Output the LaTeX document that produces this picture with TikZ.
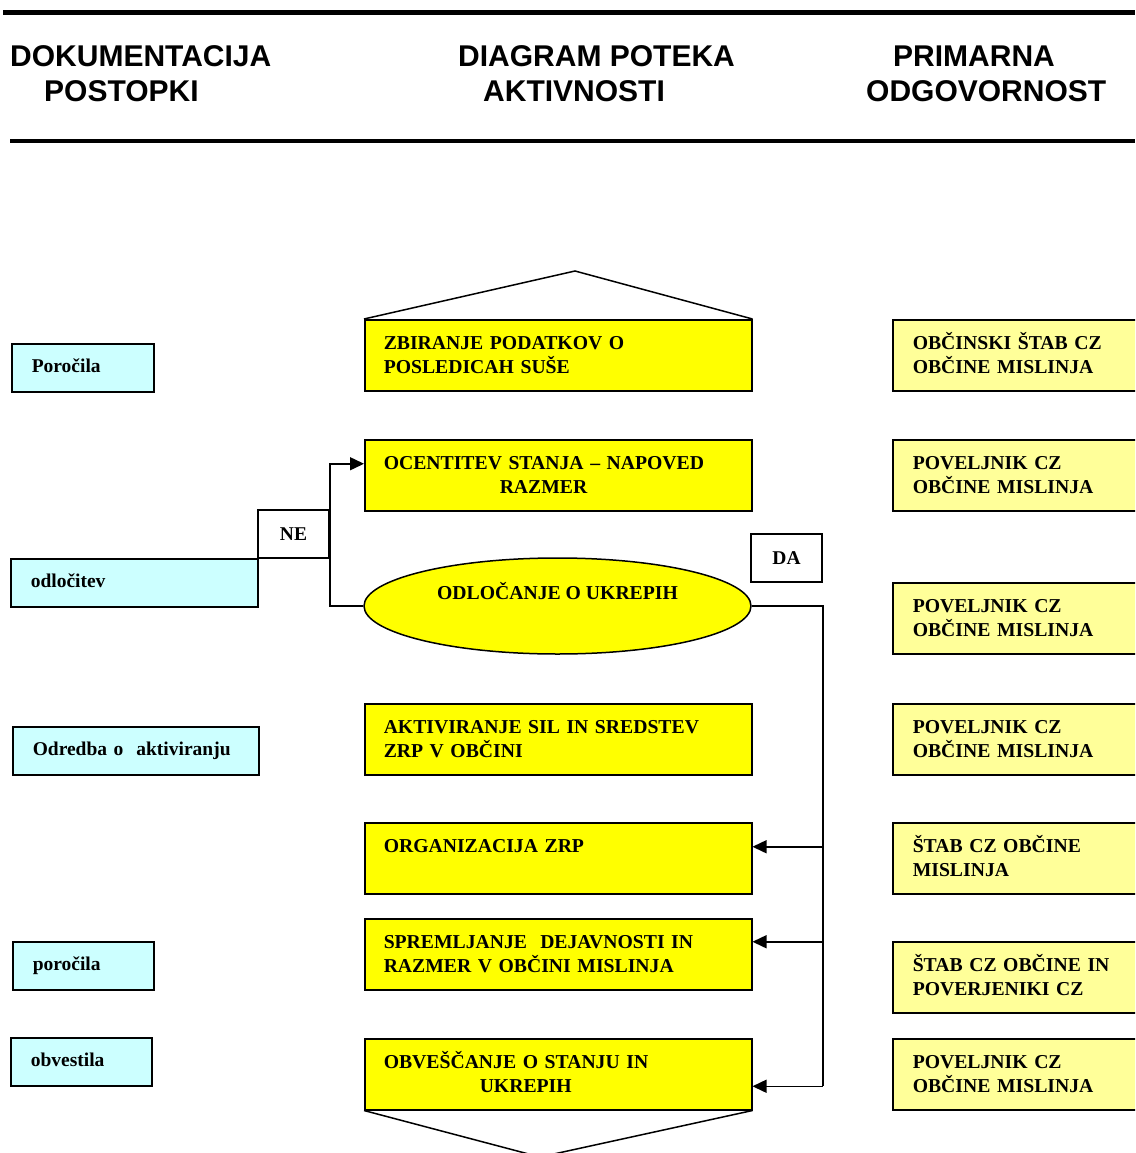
\documentclass[tikz,border=0pt]{standalone}
\usepackage{fontspec}
\setmainfont{Liberation Serif}
\newfontfamily\hdrfont{Liberation Sans}
\usetikzlibrary{shapes.geometric,arrows.meta,calc}
\definecolor{actfill}{HTML}{FFFF00}
\definecolor{respfill}{HTML}{FFFF99}
\definecolor{docfill}{HTML}{CCFFFF}
\newcommand{\twoline}[2]{\rule{0pt}{18pt}#1\\#2\rule[-6pt]{0pt}{6pt}}
\newcommand{\oneline}[1]{\rule[-6pt]{0pt}{22pt}#1}
\begin{document}
\begin{tikzpicture}[x=1pt,y=-1pt,
 hdr/.style={font=\hdrfont\bfseries\fontsize{30}{35}\selectfont, anchor=base west, inner sep=0},
 bx/.style={draw, line width=1.5pt, rectangle, anchor=north west, inner ysep=0, inner xsep=19pt,
   minimum height=71pt, align=left, font=\bfseries\fontsize{19.7}{24}\selectfont},
 act/.style={bx, fill=actfill, text width=349pt},
 resp/.style={bx, fill=respfill, text width=220pt, inner xsep=20pt},
 doc/.style={draw, line width=1.5pt, fill=docfill, anchor=north west, inner ysep=0, inner xsep=20pt,
   minimum height=48pt, align=left, text width=#1, font=\bfseries\fontsize{19.5}{24}\selectfont},
 tag/.style={draw, line width=1.5pt, fill=white, minimum width=71pt, minimum height=48pt, inner sep=0,
   font=\bfseries\fontsize{19.5}{24}\selectfont},
 conn/.style={line width=1.5pt},
 arr/.style={conn, -{Triangle[length=14pt,width=13pt]}}
]
\useasboundingbox (0,0) rectangle (1135,1153);
\clip (0,0) rectangle (1135,1153);

% header
\draw[line width=5pt] (3,12.5) -- (1135,12.5);
\draw[line width=4pt] (10,140.5) -- (1135,140.5);
\node[hdr] (h1a) at (10,67) {DOKUMENTACIJA};
\node[hdr] (h1b) at (44,102) {POSTOPKI};
\node[hdr] (h2a) at (458,67) {DIAGRAM POTEKA};
\node[hdr] (h2b) at (483,102) {AKTIVNOSTI};
\node[hdr] (h3a) at (893,67) {PRIMARNA};
\node[hdr] (h3b) at (866,102) {ODGOVORNOST};

% activity column
\node[act] (b1) at (364,319) {\twoline{ZBIRANJE PODATKOV O}{POSLEDICAH SUŠE}};
\node[act] (b2) at (364,439) {\twoline{OCENTITEV STANJA – NAPOVED}{\hspace*{116pt}RAZMER}};
\node[draw, ellipse, line width=1.5pt, fill=actfill, minimum width=387pt, minimum height=96pt,
  text height=14pt, text depth=28pt, inner sep=0, font=\bfseries\fontsize{19.7}{24}\selectfont]
  (ell) at (557.5,606) {ODLOČANJE O UKREPIH};
\node[act] (b4) at (364,703) {\twoline{AKTIVIRANJE SIL IN SREDSTEV}{ZRP V OBČINI}};
\node[act] (b5) at (364,822) {\twoline{ORGANIZACIJA ZRP}{\mbox{}}};
\node[act] (b6) at (364,918) {\twoline{SPREMLJANJE\ \ DEJAVNOSTI IN}{RAZMER V OBČINI MISLINJA}};
\node[act] (b7) at (364,1038) {\twoline{OBVEŠČANJE O STANJU IN}{\hspace*{96pt}UKREPIH}};

\draw[conn] (b1.north west) -- (575,271) -- (b1.north east);
\draw[conn] (b7.south west) -- (540,1157) -- (b7.south east);

% responsibility column
\node[resp] (r1) at (892,319) {\twoline{OBČINSKI ŠTAB CZ}{OBČINE MISLINJA}};
\node[resp] (r2) at (892,439) {\twoline{POVELJNIK CZ}{OBČINE MISLINJA}};
\node[resp] (r3) at (892,582) {\twoline{POVELJNIK CZ}{OBČINE MISLINJA}};
\node[resp] (r4) at (892,703) {\twoline{POVELJNIK CZ}{OBČINE MISLINJA}};
\node[resp] (r5) at (892,822) {\twoline{ŠTAB CZ OBČINE}{MISLINJA}};
\node[resp] (r6) at (892,941) {\twoline{ŠTAB CZ OBČINE IN}{POVERJENIKI CZ}};
\node[resp] (r7) at (892,1038) {\twoline{POVELJNIK CZ}{OBČINE MISLINJA}};

% documentation column
\node[doc=102pt] (d1) at (11,343) {\oneline{Poročila}};
\node[doc=207pt] (d2) at (10,558) {\oneline{odločitev}};
\node[doc=206pt] (d3) at (12,726) {\oneline{Odredba o\ \ aktiviranju}};
\node[doc=101pt] (d4) at (12,941) {\oneline{poročila}};
\node[doc=101pt] (d5) at (10,1037) {\oneline{obvestila}};

% decision labels
\node[tag] (ne) at (293.5,534) {NE};
\node[tag] (da) at (786.5,558) {DA};

% connectors
\draw[arr] (ell.west) -- (ell.west -| ne.east) |- ([yshift=11.5pt]b2.west);
\coordinate (a5) at ([yshift=11.5pt]b5.east);
\coordinate (a6) at ([yshift=12.5pt]b6.east);
\coordinate (a7) at ([yshift=-12pt]b7.east);
\draw[conn] (ell.east) -| (a7 -| da.east);
\draw[arr] (a5 -| da.east) -- (a5);
\draw[arr] (a6 -| da.east) -- (a6);
\draw[arr] (a7 -| da.east) -- (a7);
\end{tikzpicture}
\end{document}
